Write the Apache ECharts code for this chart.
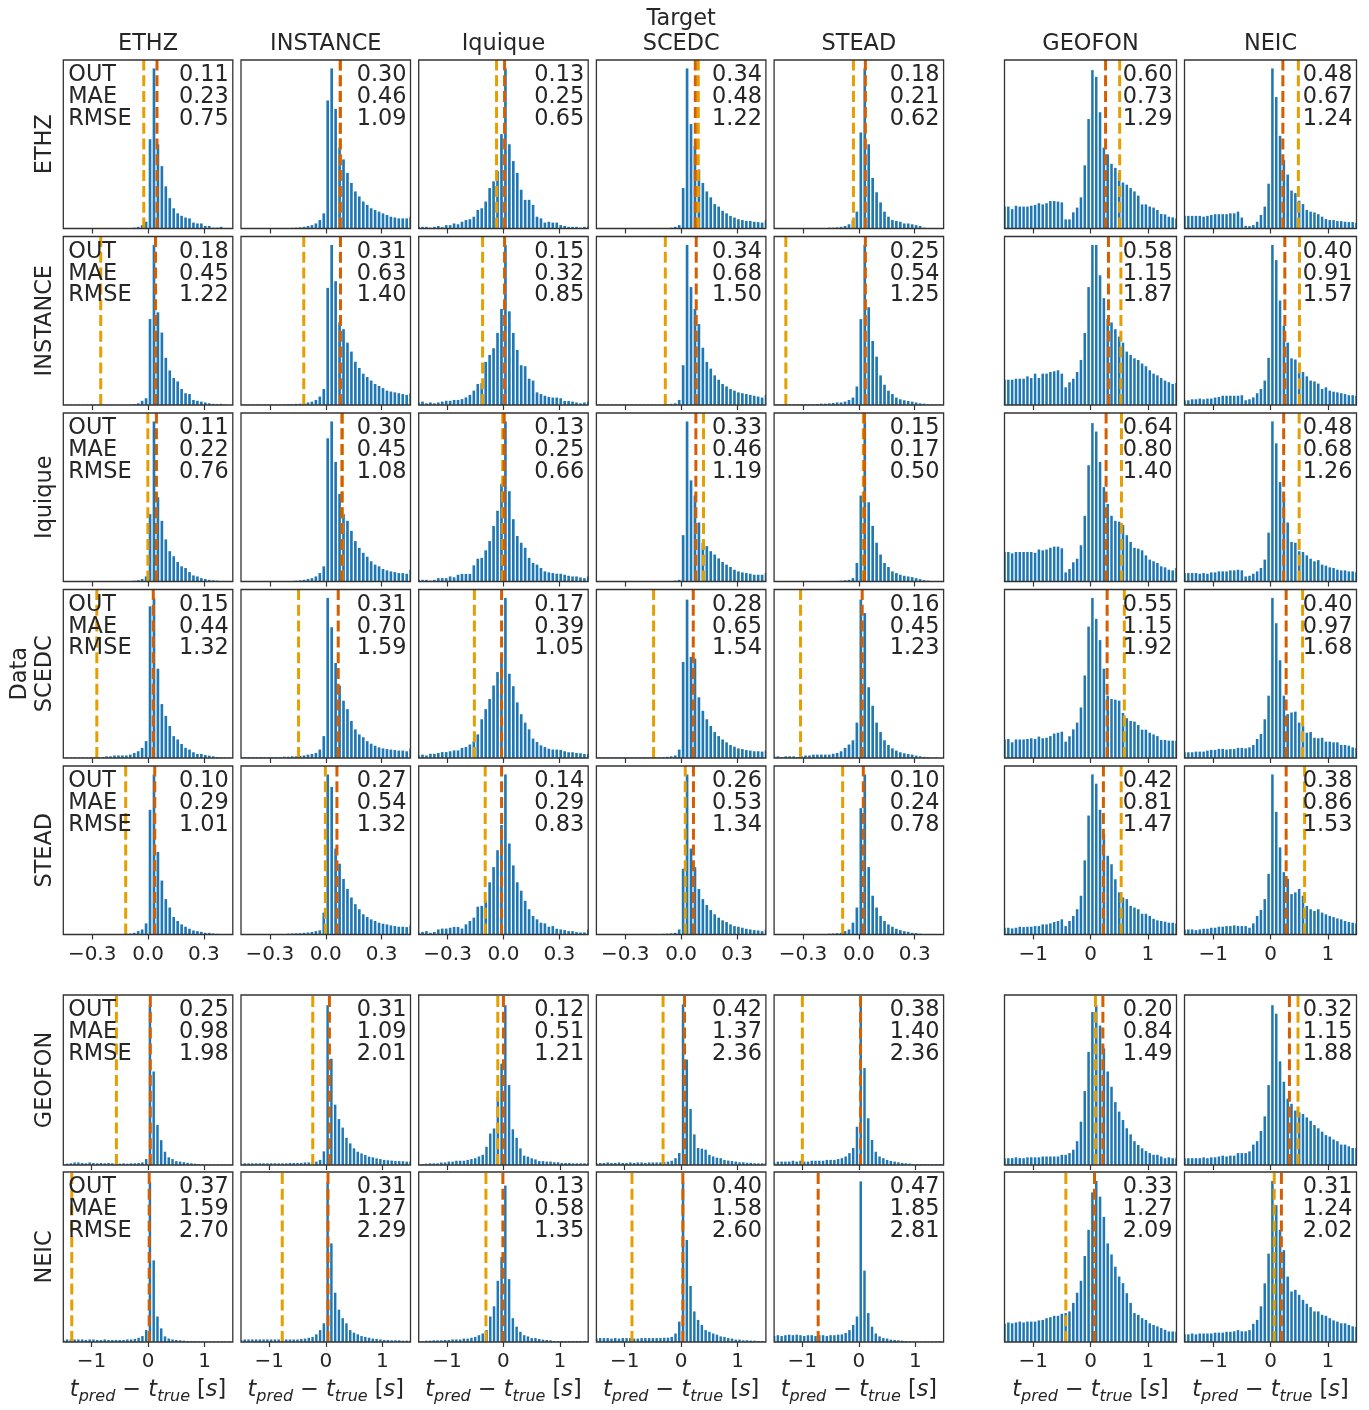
<!DOCTYPE html>
<html>
<head>
<meta charset="utf-8">
<script src="https://cdn.jsdelivr.net/npm/echarts@6/dist/echarts.min.js"></script>
<style>
  html, body { margin: 0; padding: 0; background: #ffffff; }
  #chart { width: 1369px; height: 1410px; }
</style>
</head>
<body>
<div id="chart"></div>
<script>
// Pick-time residual histograms: rows = training data set, columns = target data set.
const targetNames = ['ETHZ', 'INSTANCE', 'Iquique', 'SCEDC', 'STEAD', 'GEOFON', 'NEIC'];
const dataNames = ['ETHZ', 'INSTANCE', 'Iquique', 'SCEDC', 'STEAD', 'GEOFON', 'NEIC'];
const statNames = ['OUT', 'MAE', 'RMSE'];

// x ticks for the narrow (±0.455 s) and wide (±1.5 s) panels
const narrowTicks = [-0.3, 0.0, 0.3];
const wideTicks = [-1, 0, 1];
const narrowHalfRange = 0.455;
const wideHalfRange = 1.5;
const narrowBinWidth = 0.0212;
const wideBinWidth = 1 / 15;

// Bin heights in percent of panel height; bins are centred symmetrically so that one bin edge sits at 0.
const countsETHZ = [
  [0, 0,0,0,0,0,0,0,0,0,0,0,0,0,0,0,0, 0.3,0.5,1,2,4, 53,95,50,37,25,18,12,9,7.5,6.5,6,3.5,3,3,1.5,1.5,0.5,0.5,1,0.3,0,0],
  [0.1, 0.1,0.1,0.1,0.1,0.1,0.1,0.1,0.1,0.1,0.1,0.1, 0.3,0.4,0.5,0.7,1,1.5,2,3,5,9, 76,95,71,48,41,33,27,22,19,16,14,12,11,10,9,8,7,6.5,6,6,6,7],
  [1, 1,1,0.5,1,1.5,0.8,2,2,3,2.5,4,5,5.5,7,11,12,16,24,28,34,56, 95,50,40,33,23,17,17,14,7,6,3.5,4,3.5,3.5,2,1.5,1,1,1,0.5,1,1],
  [0.2, 0.2,0.2,0.2,0.2,0.2,0.2,0.2,0.2,0.2,0.2,0.2,0.2,0.2,0.2,0.2,0.2,0.2,0.2, 0.5,1,2, 24,95,62,49,35,27,22,18.5,14.5,13,10.5,9,7.5,6.5,5.5,5,4.5,4.5,4,3.8,3.5,5],
  [0.2, 0.2,0.2,0.2,0.2,0.2,0.2,0.2,0.2,0.2,0.2,0.2,0.2, 0.3,0.5,0.5,0.7,1,1.5,2.5,5,10, 57,95,50,30,21.5,15.5,10,7,5,4.5,4,3,3,2.5,2,1.5,0.5,0.3,0.2,0,0,0],
  [13, 13,11.5,13.5,13,13,13,13.5,14,15,14.3,15,16.3,16.3,16,15.5, 5.4,5.4,9.6,12.4,18.5, 37.5,65,94,90, 69,48,44,38.4,36,33,27.3,26,24,22,19.5,14.3,14.3,13,12.4,11,8.6,8.4,7,6.6,6],
  [7.5, 7.5,7.5,7.5,7.5,7,7.5,8,8.5,8.5,8.5,8.5,9,9,10,6.5,1.6,1.4,2,4,8,13,26.6,95,78,55,40.6,32,22.5,21,16.5,14.5,11,10,9.5,8.5,7,5.6,5,5,4.4,4.4,4,3.8,3.8,3.4]
];
const countsINSTANCE = [
  [0.2, 0.2,0.2,0.2,0.2,0.2,0.2,0.2,0.2,0.2,0.2,0.2,0.2,0.2,0.2,0.2,0.2, 0.3,0.5,1,2.5,4, 51,95,55,43,28,20.5,16,14,9.5,7,6.5,3,2.5,2,1.5,1,0.7,0.5,0.7,0.3,0,0],
  [0.3, 0.3,0.3,0.3,0.3,0.3,0.3,0.3,0.3,0.3,0.3, 0.4,0.5,0.5,0.7,0.8,1,1.5,2,3,5,9.5, 69.5,95,73.5,49,45,37,31.7,25.7,22,18.6,16.6,14.5,12.5,11.3,10,8.5,8,7.5,7,6.5,6,7],
  [1.5, 2,1,1.5,1,1.5,2,2.5,2.5,3,3,3.5,4.5,6,8.5,12.5,13,25.6,29.7,33.7,42.8,57, 95,55.6,42.8,32.7,23.6,23,15.6,14.5,7.5,6.5,5.5,4.8,4.4,4.4,4,2.4,2.4,2,1.5,1,1.5,2],
  [0.3, 0.3,0.3,0.3,0.3,0.3,0.3,0.3,0.3,0.3,0.3,0.3,0.3,0.3,0.3,0.3,0.3,0.3, 0.5,0.7,1,3, 23.6,95,70,57,48,34,25.6,21.6,17.6,15,12.5,11,9.5,8.5,7.5,7,6.5,6,5.5,5,4.4,6],
  [0.4, 0.4,0.4,0.4,0.4,0.4,0.4,0.4,0.4,0.4,0.4, 0.6,0.8,0.8,1,1.2,1.5,1.5,2,3,4.4,11, 51,95,58,38,28.7,17.6,12,8.5,6.5,4.4,3.4,2.8,2.4,2,1.5,1,0.8,0.3,0.3,0.3,0.3,0.3],
  [15, 15,15,15.6,15.6,15.6,17,16,18.6,16,18.6,18.6,19.6,20,20.6,18.6, 10.5,13.5,15.6,19.6,26.7, 42.8,70,95,95, 77,63.4,51,49,45,40.6,37,31.7,29.7,27.7,26.7,24.6,23,20.6,18.6,17.6,16,14.5,13.5,12.5,13],
  [2.8, 2.8,3.4,3.4,3.8,3.4,3.8,3.8,4.4,4.8,5.5,5.5,5.5,5.5,5.5, 5.8,2.8,3.4,4.5,7,9.5,14.5,28,95,86,62,47,37,27.7,27,20.6,19.6,17,14.5,14,12.7,9.5,10.5,8.5,7.9,7.5,7,6.5,5.8,5.8,5.5]
];
const countsIquique = [
  [0, 0,0,0,0,0,0,0,0,0,0,0,0,0,0,0,0, 0.3,0.5,0.8,1.5,3, 40,95,50,36,25,18,15,11.6,9,8,5.6,3.6,3,2,1.5,1,0.7,0.5,0.3,0,0,0],
  [0.3, 0.3,0.3,0.3,0.3,0.3,0.3,0.3,0.3,0.3,0.3,0.3,0.3,0.3, 0.5,0.7,1,1.5,2,3,5,9, 85,95,71,52,40,36,30,24,20,17,14.7,12,10,9,7.4,6.6,6,5.6,5,5,4.6,7],
  [1, 1,1,0.5,1,2,2,2,3,2.5,4,4.5,4.5,4.5,9.6,13.5,14,18.5,24,33,42,58, 95,53.6,37,27,23,20,14,11,10,8,6,5.4,5,4.6,4.6,4,3.4,3,3,2.4,2,3],
  [0.2, 0.2,0.2,0.2,0.2,0.2,0.2,0.2,0.2,0.2,0.2,0.2,0.2,0.2,0.2,0.2,0.2,0.2,0.2,0.2, 0.5,1, 27.5,95,60,51,35,23,21,18,16,13.7,11.6,10,8.6,7,6,5.4,5,4.6,4,4,4,5],
  [0.2, 0.2,0.2,0.2,0.2,0.2,0.2,0.2,0.2,0.2,0.2,0.2,0.2,0.2,0.2,0.2,0.2, 0.5,0.7,1,2,11, 51,95,47,33,23,16,11,8.6,6,5,4,3.4,3,2.6,2,1.4,0.8,0.5,0.2,0.2,0.2,0.2],
  [17.5, 17.5,16.7,17.5,17.5,17.5,17.5,17.5,17,19,18.5,19,20,20.7,20.7,19.7, 5.4,7.4,11.4,13.5,21.5, 39,69,94,89, 71,56,46,39,36,35.5,33.5,27.5,23.5,20,19.5,18.5,15.5,13,12,11,9,8.4,7,6.6,8],
  [5, 5,5,5,4.6,5,4.6,5.4,5.4,6,6,6,6.6,6.6,7,6.6, 3,3.4,4.6,6,8,13,29,95,82,59,49,35,23.5,23,18,17.5,15.5,13.5,12,12.7,10,9.4,8.4,8,7,6.6,6.6,6,6,5.5]
];
const countsSCEDC = [
  [0.3, 0.3,0.3,0.3,0.3,0.3,0.3, 0.4,0.5,0.5,0.5,1,1,1.5,1.5,1.5,1.5,2,3,4,6,10, 90,95,53,32,25,19,13,11,8.3,6,5,3.4,2.4,2.4,1.8,1.4,1,0.6,0.4,0.3,0.2,0.2],
  [0.5, 0.5,0.5,0.5,0.5,0.5,0.5,0.5,0.5,0.5,0.5, 0.8,0.8,1,1,1.2,1.5,2,2.4,3,5,13, 95,77.6,56.4,43,34,29,22,17,14,12.3,10,8.5,7.3,6.3,5.7,5.3,5,4.7,4.4,4.4,4,5.7],
  [1.5, 2,1.5,2.5,2.5,3,3.5,3.5,4,4.5,4.5,6,6.5,8,10,14,23,29,35,43,51,60, 95,50,42.6,33,26,21,17,11.5,9.5,7.5,6.5,5.5,5,5,4.8,4,3.4,3.4,3,2.8,2.4,2.4],
  [0.4, 0.4,0.4,0.4,0.4,0.4,0.4,0.4,0.4,0.4,0.4,0.4,0.4,0.4,0.4,0.4, 0.4,0.5,0.7,1,1.5,5, 57,94,60,59,36,28,23,19,15.4,13,11,9.3,7.7,6.7,5.7,5.3,4.7,4.4,4,4,3.8,4.4],
  [1, 1,0.5,1,1,1,0.5,1,1.5,1.5,2,2,2,2,2,2.5,3,4,6,8,10.5,21, 94,86,42,31,21,15.4,10.5,7.7,5.7,4.4,3.4,2.8,2.4,2,1.4,1,0.7,0.5,0.3,0.3,0.2,0.2],
  [11, 11.3,9.3,11,11,11,11.3,11.7,11.3,12.7,11.7,12,13,14.5,15,15.6, 9.7,12.9,17,21,30, 49,78,95,82.6, 70,53,37,35,34.6,34,26.7,23.6,22,21.6,19.6,16.8,16.8,15,14,13,10.7,10.7,10.3,10.3,10.3],
  [3.4, 3.4,3.4,3.8,3.8,3.8,4.4,4.8,4.8,5.4,5.4,5,5.3,5.3,6,6, 5.7,6.3,7.7,11.3,14.3, 23,37,95,80, 58,37,26,27,27.5,21,19,15,15.4,12,11.7,12,9.7,9.7,9.3,9.3,7.7,7.7,7.3,6.3,6]
];
const countsSTEAD = [
  [0.2, 0.2,0.2,0.2,0.2,0.2,0.2,0.2,0.2,0.2,0.2,0.2,0.2,0.2,0.2,0.2, 0.4,0.6,1,2,3,6.6, 74,95,49,32,21,16,10.4,8,6,4.6,3.4,2.4,2,1.6,1,1,0.6,0.4,0.3,0.2,0.2,0.2],
  [0.3, 0.3,0.3,0.3,0.3,0.3,0.3,0.3,0.3,0.3,0.3,0.3, 0.5,0.6,0.7,0.8,1,1.2,1.5,2,2.5,13, 95,87.6,51,42,33,27,22,18,15,12,10.4,9,8,7,6.4,6,5.4,5,4.6,4.6,4.4,5.4],
  [1, 1.5,2,1,1.5,3,3.5,3.5,4,4.5,4.5,3.5,6,8,10,16.5,17,20,31,40,50,65, 95,54,41,31,26,20,15,11,9,7,6.6,4.6,5,3.4,3,2.6,2,2,1.4,1.2,1.2,3],
  [0.2, 0.2,0.2,0.2,0.2,0.2,0.2,0.2,0.2,0.2,0.2,0.2,0.2,0.2,0.2,0.2,0.2, 0.4,0.5,0.7,1,3, 39,95,51,40,27,21,17.5,14.5,12,10,8.4,7.4,6,5,4.6,4,3.4,3,2.6,2.4,2,3],
  [0.3, 0.3,0.3,0.3,0.3,0.3,0.3,0.3,0.3,0.3,0.3,0.3,0.3,0.3, 0.5,0.6,0.8,1,2,3,7,16, 75,95,40,23,16,11,8,6,4.6,3.4,2.6,2,1.6,1,0.8,0.5,0.3,0.2,0.2,0.2,0.2,0.2],
  [4, 4,3.6,4,4.6,4.4,4.6,4.6,5,5,6,6,6.6,7.4,8,9, 5,8,11,15,23, 44,70.6,95,89.5, 74,59.6,46.7,41.7,32.8,25,22,21,17,16,15,12.3,12.3,11,9.3,8.4,8,7.6,7,7,6.6],
  [3, 3,3,2.6,3,3.4,3.4,4,4,4.6,4.6,5,5,5.4,5,5, 5,4,6.6,11,14.6, 21,36,95,72.8, 51.7,37,33,24,25,27,23,17,15,14,15,13,12,11,10.3,9.5,9,8,7.4,7,6.6]
];
const countsGEOFON = [
  [0.5,0.8,1,1.5,1.5,1.2,1,1.5,1.2,1,1.2,1,1.2,1,0.8,0.8,1,0.8,1,1,1.2,1.5, 3.5,94,55,23.6,14.6,7.8,4.5,3.5,2.3,2, 1.6,1.3,1,0.8,0.6,0.3,0.3,0.3,0.3,0.3,0.3,0.3,0.3,0.3],
  [0.8,1,1,1,1,1,1,1,1,1,1,1,1,1.2,1.2,1.2,1.2,1.5,1.5,1.8,2, 3,8,94,62.5,35.5,27,22,16,12.7,9.8,7.8,6.8,5.9,4.9,4.5,3.9,3.5,3,2.8,2.6,2.3,2.3,2.2,2,2],
  [0.5,0.5,0.8,1,1,1,1.5,1.5,2,2,2.5,2.5,2.5,3, 3.5,4,5,6,10.7,18.5,21.5,40,59.6,94, 47,21,16,9.8,5.5,4.9,3.9,3.3,2.3,2.3,2,2,1.6,1.6,1.2,1.2,1.2,1,1,1,1,1],
  [1,1.2,1.2,1.5,1.2,1.2,1.5,1.2,1.2,1.5,1.2,1.5,1.5,1.2,1.5,1.5,1.5,1.5,1.8,2,2.5, 4,7,94.5,62,33,18,10,9.6,9,6,5,4.3,4,3,2.6,2.3,2,1.6,1.6,1.3,1.3,1,1,1,1],
  [1.5,2,2,2,2,2.5,2,2.5,2,2,2.5,2.5,2.5,2.5,3,3,3,3.5,4,5,7,10,22.5, 94.5,57,27.5,14.7,7.8,5,4,3,2.4,2,1.6,1.2,1,0.8,0.5,0.5,0.5,0.5,0.5,0.5,0.5,0.5,0.5],
  [4,4,4,4.5,4,4,4.5,4.5,4.5,4.5,5,5,5,5, 5,6,6,7,9,14,25.5,43.5,66.5,90,94, 82,68.6,55,46,37,31.4,26.5,21.6,18,14,11.8,9.8,8.2,7,6,6,5,4,4.5,4,4],
  [4,4,4,4,4,4.5,4,4.5,4.5,5,5.5,5,5.5,5.5,7,7,7,8,12,14,20,28.6,47, 94,89,61,49,39,36,32,31,30,28,26,23.5,21.6,19.6,17.6,16.7,15,14,12,12,11,10,10]
];
const countsNEIC = [
  [1,1.5,1.5,1.5,1.5,1.5,1.2,1.5,1.5,1.2,1.2,1.5,1.2,1.2,1.2,1.2,1.2,1.5,1.5,1.8,2.5,3.5, 7,94,48,15,8,3.3,2,1.5,1.2,1, 0.8,0.6,0.5,0.5,0.4,0.3,0.3,0.3,0.3,0.3,0.3,0.3,0.3,0.3],
  [1.2,1.5,1.5,1.5,1.5,1.5,1.5,1.5,1.5,1.5,1.5,1.5,1.5,1.5,1.5,1.5,1.8,2,2.5,3,4.5,7, 11,94,58,29,19,14,11,7,5.5,4.5,3.5,3,2.5,2,1.8,1.5,1.2,1.2,1,1,1,0.8,0.8,0.8],
  [0.5,0.5,0.8,0.8,1,1,1,1.2,1.2,1.5,1.5, 1.5,2,2,2.5,3,4,5,7,15,21,36,50,92, 37,14,9,6,4,3.3,2.3,2.3,1.8,1.4,1.2,1,0.6,0.6,0.6,0.6,0.6,0.6,0.6,0.6,0.6,0.6],
  [2,2.3,2.3,2.3,2,2.3,2,2.3,2.3,2.3,2,2,2.3,2.3,2.3,2.3,2.3,2.3,2.5,2.5,3,5,12, 94,60,33,18,13,10,7,6,5,4.3,3.3,3,2.3,2,1.4,1.4,1,1,0.8,0.8,0.6,0.6,0.6],
  [3.5,4,3.5,4,4.3,4,4.3,4,3.5,4,4,3.5,4,4,3.5,4,4,4.3,4.5,5.3,7,10,15, 94.5,42,17,9,5,3.3,2.3,2,1.4,1.2,1,0.8,0.6,0.5,0.3,0.3,0.3,0.3,0.3,0.3,0.3,0.3,0.3],
  [10.7,11.5,11,11.5,12,11.5,12,12,12,12.7,13,14,14.6,15.4,15.4,16.6,17,18,23,29,36,50.6,66,88,94.7, 85.5,73.6,58,51.5,44.3,38.5,34.6,28.7,23,17,16,14,13,11,10,9.2,8.2,7.2,6.2,6.2,6],
  [4.5,4.5,5,4.5,5,5,5,5,5.5,5.5,5.5,6,6,6.3,7,6.3,6.3,7,10.7,13,21,34.5,52,94.7, 80.5,66,54,38.5,29.7,30.7,27.7,24.8,22.5,20.5,18,18,16,15.4,14,12.7,12,11,11,10,9.2,9]
];

// Mean (light orange) and median (dark orange) residuals per target column, in s
const meanETHZ     = [-0.023, 0.078, -0.037, 0.092, -0.029, 0.509, 0.486];
const medianETHZ   = [0.048, 0.078, 0.006, 0.076, 0.035, 0.263, 0.216];
const meanINSTANCE   = [-0.254, -0.118, -0.112, -0.085, -0.392, 0.53, 0.505];
const medianINSTANCE = [0.04, 0.079, 0.006, 0.081, 0.035, 0.313, 0.25];
const meanIquique    = [-0.001, 0.089, -0.004, 0.12, 0.024, 0.54, 0.50];
const medianIquique  = [0.045, 0.087, 0.004, 0.079, 0.03, 0.272, 0.23];
const meanSCEDC      = [-0.275, -0.146, -0.156, -0.148, -0.313, 0.59, 0.56];
const medianSCEDC    = [0.028, 0.067, -0.01, 0.065, 0.018, 0.29, 0.273];
const meanSTEAD      = [-0.12, -0.002, -0.098, 0.022, -0.087, 0.535, 0.595];
const medianSTEAD    = [0.036, 0.06, -0.01, 0.066, 0.024, 0.225, 0.273];
const meanGEOFON     = [-0.56, -0.23, -0.1, -0.32, -1.0, 0.086, 0.48];
const medianGEOFON   = [0.04, 0.065, 0.0, 0.06, 0.03, 0.216, 0.33];
const meanNEIC       = [-1.35, -0.77, -0.31, -0.87, null, -0.43, 0.065];
const medianNEIC     = [0.02, 0.04, -0.01, 0.03, -0.72, 0.07, 0.19];

// OUT, MAE, RMSE per target column
const statsETHZ = [[0.11,0.23,0.75],[0.30,0.46,1.09],[0.13,0.25,0.65],[0.34,0.48,1.22],[0.18,0.21,0.62],[0.60,0.73,1.29],[0.48,0.67,1.24]];
const statsINSTANCE = [[0.18,0.45,1.22],[0.31,0.63,1.40],[0.15,0.32,0.85],[0.34,0.68,1.50],[0.25,0.54,1.25],[0.58,1.15,1.87],[0.40,0.91,1.57]];
const statsIquique = [[0.11,0.22,0.76],[0.30,0.45,1.08],[0.13,0.25,0.66],[0.33,0.46,1.19],[0.15,0.17,0.50],[0.64,0.80,1.40],[0.48,0.68,1.26]];
const statsSCEDC = [[0.15,0.44,1.32],[0.31,0.70,1.59],[0.17,0.39,1.05],[0.28,0.65,1.54],[0.16,0.45,1.23],[0.55,1.15,1.92],[0.40,0.97,1.68]];
const statsSTEAD = [[0.10,0.29,1.01],[0.27,0.54,1.32],[0.14,0.29,0.83],[0.26,0.53,1.34],[0.10,0.24,0.78],[0.42,0.81,1.47],[0.38,0.86,1.53]];
const statsGEOFON = [[0.25,0.98,1.98],[0.31,1.09,2.01],[0.12,0.51,1.21],[0.42,1.37,2.36],[0.38,1.40,2.36],[0.20,0.84,1.49],[0.32,1.15,1.88]];
const statsNEIC = [[0.37,1.59,2.70],[0.31,1.27,2.29],[0.13,0.58,1.35],[0.40,1.58,2.60],[0.47,1.85,2.81],[0.33,1.27,2.09],[0.31,1.24,2.02]];

const rowTable = [
  { counts: countsETHZ, mean: meanETHZ, median: medianETHZ, stats: statsETHZ },
  { counts: countsINSTANCE, mean: meanINSTANCE, median: medianINSTANCE, stats: statsINSTANCE },
  { counts: countsIquique, mean: meanIquique, median: medianIquique, stats: statsIquique },
  { counts: countsSCEDC, mean: meanSCEDC, median: medianSCEDC, stats: statsSCEDC },
  { counts: countsSTEAD, mean: meanSTEAD, median: medianSTEAD, stats: statsSTEAD },
  { counts: countsGEOFON, mean: meanGEOFON, median: medianGEOFON, stats: statsGEOFON },
  { counts: countsNEIC, mean: meanNEIC, median: medianNEIC, stats: statsNEIC }
];

// ---- layout ----
const COL_LEFT = [63.3, 241, 418.7, 596.4, 774.1, 1004.5, 1184.5];
const COL_WIDTH = [169.5, 169.5, 169.5, 169.5, 169.5, 172, 172];
const ROW_TOP = [60, 236.5, 413, 589.5, 766, 995, 1172];
const ROW_HEIGHT = [168.5, 168.5, 168.5, 168.5, 168.5, 170, 170];

const FONT = 'DejaVu Sans';
const TEXT = '#262626';
const FRAME = '#333333';
const BAR = '#1f77b4';
const MEAN_COLOR = '#E69F00';
const MEDIAN_COLOR = '#D55E00';

function renderBin(params, api) {
  const h = api.value(2);
  if (!(h > 0)) return;
  const p0 = api.coord([api.value(0), h]);
  const p1 = api.coord([api.value(1), 0]);
  const gap = 1.3;
  const cs = params.coordSys;
  const shape = echarts.graphic.clipRectByRect(
    { x: p0[0] + gap / 2, y: p0[1], width: p1[0] - p0[0] - gap, height: p1[1] - p0[1] },
    { x: cs.x, y: cs.y, width: cs.width, height: cs.height }
  );
  if (!shape) return;
  return { type: 'rect', shape: shape, style: { fill: BAR } };
}

const grids = [], xAxes = [], yAxes = [], series = [], graphics = [];

for (let r = 0; r < 7; r++) {
  const row = rowTable[r];
  for (let c = 0; c < 7; c++) {
    const idx = r * 7 + c;
    const wide = r >= 5 || c >= 5;
    const half = wide ? wideHalfRange : narrowHalfRange;
    const binW = wide ? wideBinWidth : narrowBinWidth;
    const ticks = wide ? wideTicks : narrowTicks;
    const counts = row.counts[c];
    const n = counts.length;
    const bins = counts.map((hgt, k) => [(k - n / 2) * binW, (k - n / 2 + 1) * binW, hgt]);
    const showLabels = (r === 4 || r === 6);
    const left = COL_LEFT[c], top = ROW_TOP[r], w = COL_WIDTH[c], h = ROW_HEIGHT[r];

    grids.push({ left: left, top: top, width: w, height: h, containLabel: false });
    xAxes.push({
      gridIndex: idx, type: 'value', min: -half, max: half,
      axisLine: { show: false },
      splitLine: { show: false },
      axisTick: { show: true, length: 5, inside: false, customValues: ticks,
        lineStyle: { color: FRAME, width: 1.2 } },
      axisLabel: {
        show: showLabels, customValues: ticks, margin: 10,
        fontSize: 20, fontFamily: FONT, color: TEXT,
        formatter: v => (v < 0 ? '\u2212' : '') + Math.abs(v).toFixed(wide ? 0 : 1)
      }
    });
    yAxes.push({ gridIndex: idx, type: 'value', min: 0, max: 100, show: false });

    series.push({
      type: 'custom', xAxisIndex: idx, yAxisIndex: idx, data: bins,
      renderItem: renderBin, silent: true, animation: false, z: 2
    });
    const m = row.mean[c];
    if (m !== null) {
      series.push({
        type: 'line', xAxisIndex: idx, yAxisIndex: idx, data: [[m, 0], [m, 100]],
        symbol: 'none', silent: true, animation: false, z: 3,
        lineStyle: { color: MEAN_COLOR, width: 3, type: [11, 4.8] }
      });
    }
    const md = row.median[c];
    series.push({
      type: 'line', xAxisIndex: idx, yAxisIndex: idx, data: [[md, 0], [md, 100]],
      symbol: 'none', silent: true, animation: false, z: 4,
      lineStyle: { color: MEDIAN_COLOR, width: 3, type: [11, 4.8] }
    });

    // panel frame
    graphics.push({
      type: 'rect', silent: true, z: 100,
      shape: { x: left, y: top, width: w, height: h },
      style: { fill: null, stroke: FRAME, lineWidth: 1.3 }
    });
    // statistics
    graphics.push({
      type: 'text', silent: true, z: 101, x: left + w - 4, y: top + 4.5,
      style: {
        text: row.stats[c].map(v => v.toFixed(2)).join('\n'),
        fontSize: 22.4, fontFamily: FONT, fill: TEXT, lineHeight: 21.8,
        align: 'right', verticalAlign: 'top', textAlign: 'right', textVerticalAlign: 'top'
      }
    });
    if (c === 0) {
      graphics.push({
        type: 'text', silent: true, z: 101, x: left + 5, y: top + 4.5,
        style: {
          text: statNames.join('\n'),
          fontSize: 22.4, fontFamily: FONT, fill: TEXT, lineHeight: 21.8,
          align: 'left', verticalAlign: 'top', textAlign: 'left', textVerticalAlign: 'top'
        }
      });
    }
  }
}

// column titles
for (let c = 0; c < 7; c++) {
  const cx = COL_LEFT[c] + COL_WIDTH[c] / 2;
  graphics.push({
    type: 'text', silent: true, z: 101, x: cx, y: 44,
    style: { text: targetNames[c], fontSize: 22.4, fontFamily: FONT, fill: TEXT,
      align: 'center', verticalAlign: 'middle', textAlign: 'center', textVerticalAlign: 'middle' }
  });
  // x-axis title below the last row
  graphics.push({
    type: 'text', silent: true, z: 101, x: cx, y: 1390,
    style: {
      text: '{i|t}{s|pred}{n| \u2212 }{i|t}{s|true}{n| [}{i|s}{n|]}',
      align: 'center', verticalAlign: 'middle', textAlign: 'center', textVerticalAlign: 'middle',
      fill: TEXT,
      rich: {
        i: { fontSize: 22.4, fontStyle: 'italic', fontFamily: FONT, fill: TEXT, color: TEXT },
        s: { fontSize: 16, fontStyle: 'italic', fontFamily: FONT, fill: TEXT, color: TEXT, padding: [14, 0, 0, 0] },
        n: { fontSize: 22.4, fontFamily: FONT, fill: TEXT, color: TEXT }
      }
    }
  });
}
graphics.push({
  type: 'text', silent: true, z: 101, x: COL_LEFT[3] + COL_WIDTH[3] / 2, y: 19,
  style: { text: 'Target', fontSize: 22.4, fontFamily: FONT, fill: TEXT,
    align: 'center', verticalAlign: 'middle', textAlign: 'center', textVerticalAlign: 'middle' }
});

// row titles (rotated)
for (let r = 0; r < 7; r++) {
  const cy = ROW_TOP[r] + ROW_HEIGHT[r] / 2;
  graphics.push({
    type: 'text', silent: true, z: 101, x: 45, y: cy, rotation: Math.PI / 2,
    style: { text: dataNames[r], fontSize: 22.4, fontFamily: FONT, fill: TEXT,
      align: 'center', verticalAlign: 'middle', textAlign: 'center', textVerticalAlign: 'middle' }
  });
}
graphics.push({
  type: 'text', silent: true, z: 101, x: 20, y: ROW_TOP[3] + ROW_HEIGHT[3] / 2, rotation: Math.PI / 2,
  style: { text: 'Data', fontSize: 22.4, fontFamily: FONT, fill: TEXT,
    align: 'center', verticalAlign: 'middle', textAlign: 'center', textVerticalAlign: 'middle' }
});

const chart = echarts.init(document.getElementById('chart'), null, { renderer: 'canvas', width: 1369, height: 1410 });
chart.setOption({
  animation: false,
  backgroundColor: '#ffffff',
  textStyle: { fontFamily: FONT },
  grid: grids,
  xAxis: xAxes,
  yAxis: yAxes,
  series: series,
  graphic: { elements: graphics }
});
</script>
</body>
</html>
